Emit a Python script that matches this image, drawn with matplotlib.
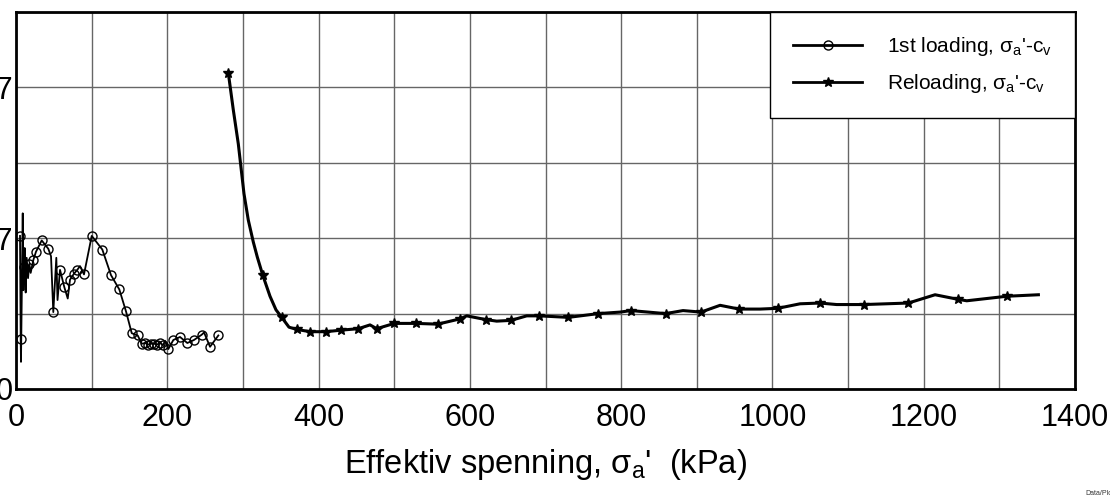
import matplotlib
matplotlib.use('Agg')
import matplotlib.pyplot as plt

plt.rcParams['font.family'] = ['Liberation Sans', 'DejaVu Sans']
plt.rcParams['mathtext.fontset'] = 'custom'
plt.rcParams['mathtext.rm'] = 'Liberation Sans'
plt.rcParams['mathtext.it'] = 'Liberation Sans:italic'

# 1st loading (sigma_a' in kPa, c_v in plot units)
first_x = [5.3, 6.2, 6.6, 8.9, 9.7, 10.6, 11.5, 12.8, 14.1, 15.9, 17.6, 19.4,
           22.9, 26.4, 34.0, 42.7, 46.3, 49.3, 53.3, 54.9, 58.2, 63.9, 68.4,
           71.4, 76.7, 81.0, 84.6, 89.9, 100.1, 114.1, 125.6, 136.6, 145.4,
           153.0, 160.9, 166.2, 170.6, 174.5, 178.5, 182.4, 186.4, 190.4,
           194.3, 197.0, 201.4, 208.0, 216.8, 226.5, 235.3, 245.5, 248.6,
           256.5, 267.5]
first_y = [2.03, 0.66, 0.36, 2.33, 1.31, 1.62, 1.87, 1.28, 1.74, 1.47, 1.66, 1.54,
           1.71, 1.82, 1.97, 1.86, 1.76, 1.02, 1.74, 1.18, 1.58, 1.35, 1.20,
           1.45, 1.53, 1.58, 1.63, 1.52, 2.03, 1.85, 1.51, 1.32, 1.03,
           0.74, 0.71, 0.60, 0.61, 0.59, 0.60, 0.60, 0.59, 0.61,
           0.58, 0.64, 0.53, 0.65, 0.69, 0.61, 0.65, 0.72, 0.75,
           0.56, 0.71]
first_marks = [0, 1, 5, 10, 12, 13, 14, 15, 17, 20, 21, 23, 24, 25, 27, 28, 29,
               30, 31, 32, 33, 34, 35, 36, 37, 38, 39, 40, 41, 42, 44, 45, 46,
               47, 48, 49, 51, 52]

# Reloading
re_x = [280.7, 287.3, 293.9, 301.4, 307.1, 313.7, 319.0, 326.2, 335.8, 343.7,
        351.3, 360.9, 371.1,
        388.7, 409.9, 429.3, 452.6, 468.0, 476.9, 500.2, 528.8, 557.5, 587.0,
        595.9, 621.4, 635.5, 654.4, 675.2, 691.8, 730.2, 769.9, 798.6, 813.1,
        847.1, 858.9, 881.8, 905.6, 930.8, 955.9, 983.6, 1007.0, 1036.5,
        1063.0, 1085.0, 1121.1, 1179.7, 1215.0, 1245.0, 1256.9, 1309.8, 1351.6]
re_y = [4.19, 3.70, 3.25, 2.59, 2.24, 1.95, 1.75, 1.51, 1.23, 1.05,
        0.95, 0.82, 0.79,
        0.76, 0.76, 0.78, 0.80, 0.85, 0.80, 0.87, 0.87, 0.86, 0.93,
        0.97, 0.92, 0.90, 0.91, 0.97, 0.97, 0.95, 1.00, 1.02, 1.04,
        1.01, 1.00, 1.04, 1.02, 1.11, 1.06, 1.06, 1.07, 1.13,
        1.14, 1.12, 1.12, 1.14, 1.25, 1.19, 1.17, 1.23, 1.25]
re_marks = [0, 7, 10, 12, 13, 14, 15, 16, 18, 19, 20, 21, 22, 24, 26, 28, 29,
            30, 32, 34, 36, 38, 40, 42, 44, 45, 47, 49]

x_ticks = [0, 200, 400, 600, 800, 1000, 1200, 1400]
y_ticks = [0, 1, 2, 3, 4, 5]
y_ticklabels = ['0', '', '2E-7', '', '4E-7', '']

fig = plt.figure(figsize=(11.1, 4.97), dpi=100)
ax = fig.add_axes([16 / 1110, 108 / 497, 1059 / 1110, 377 / 497])

ax.plot(first_x, first_y, color='black', linewidth=1.3, marker='o',
        markersize=6.5, markerfacecolor='none', markeredgewidth=1.0,
        markevery=first_marks, label="1st loading, σ$_\\mathregular{a}$'-c$_\\mathregular{v}$")
ax.plot(re_x, re_y, color='black', linewidth=2.2, marker='*',
        markersize=7, markevery=re_marks,
        label="Reloading, σ$_\\mathregular{a}$'-c$_\\mathregular{v}$")

ax.set_xlim(0, 1400)
ax.set_ylim(0, 5)
ax.set_xticks(x_ticks)
ax.set_xticks(range(100, 1400, 200), minor=True)
ax.set_yticks(y_ticks)
ax.set_yticklabels(y_ticklabels)
ax.tick_params(axis='both', which='both', length=0, labelsize=22)
ax.tick_params(axis='x', pad=10)
ax.tick_params(axis='y', pad=2)
ax.grid(True, which='both', color='#666666', linewidth=1.0)
for sp in ax.spines.values():
    sp.set_linewidth(2.0)

ax.set_xlabel("Effektiv spenning, σ$_\\mathregular{a}$'  (kPa)", fontsize=23.5, labelpad=10)

leg = ax.legend(loc='upper right', borderaxespad=0, fancybox=False, framealpha=1,
                edgecolor='black', fontsize=15, handlelength=3.3, handletextpad=1.2,
                borderpad=1.1, labelspacing=0.7)
leg.get_frame().set_linewidth(1.0)
for line in leg.get_lines():
    line.set_linewidth(2.0)

fig.text(1085 / 1110, 2 / 497, 'Data/Plot', fontsize=5, color='#333333')

fig.savefig('out.png', dpi=100)
